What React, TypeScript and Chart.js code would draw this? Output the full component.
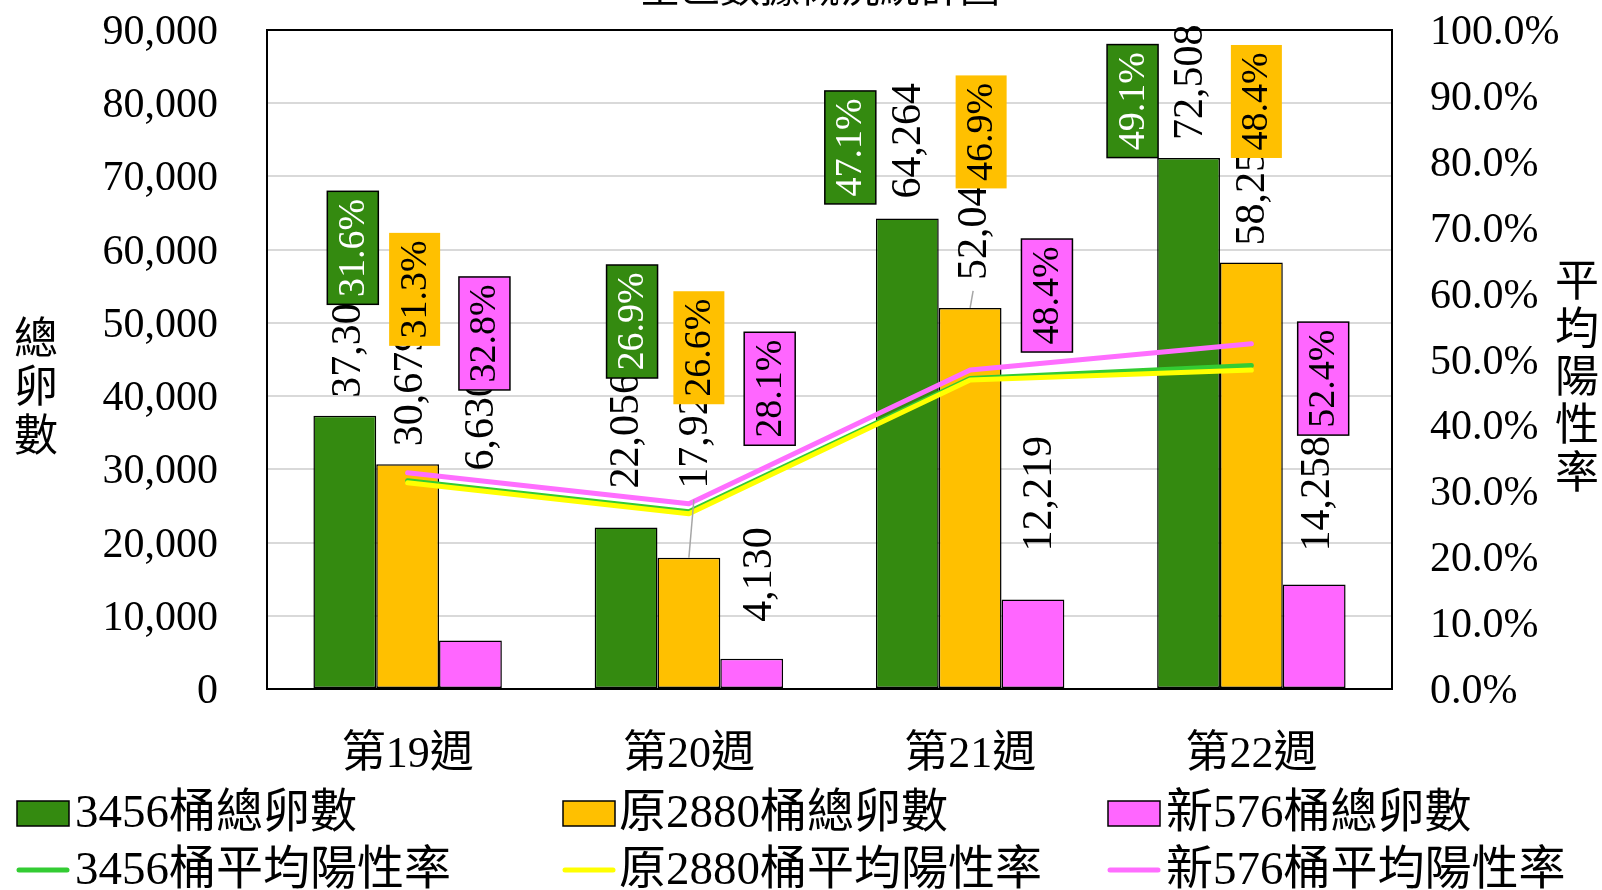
import React, { useEffect, useRef } from 'react';
import { Chart, registerables } from 'chart.js';

Chart.register(...registerables);

// ---------- data ----------
const categories = ['第19週', '第20週', '第21週', '第22週'];
const eggs3456 = [37309, 22056, 64264, 72508];
const eggs2880 = [30679, 17926, 52045, 58250];
const eggs576 = [6630, 4130, 12219, 14258];
const rate3456 = [31.6, 26.9, 47.1, 49.1];
const rate2880 = [31.3, 26.6, 46.9, 48.4];
const rate576 = [32.8, 28.1, 48.4, 52.4];
const barNames = ['3456桶總卵數', '原2880桶總卵數', '新576桶總卵數'];
const lineNames = ['3456桶平均陽性率', '原2880桶平均陽性率', '新576桶平均陽性率'];
const titleText = '全區數據概況統計圖';
const leftTitle = ['總', '卵', '數'];
const rightTitle = ['平', '均', '陽', '性', '率'];

// ---------- styles / layout ----------
const SERIF = '"Liberation Serif", "Noto Sans CJK TC", serif';
const BAR_COLORS = ['#348A10', '#FFC000', '#FF66FF'];
const LINE_COLORS = ['#33CC33', '#FFFF00', '#FF6EFF'];
const BOX_TEXT = ['#FFFFFF', '#000000', '#000000'];
const BOX_BORDER = [true, false, true];

// label offsets relative to bar (centerX, topY): value label start, percent box center
const VALUE_OFF = [
  [[4, -18], [1, -39], [2, -20], [2, -18]],
  [[3, -18], [7, -69], [5, -28], [2, -17]],
  [[12, -170], [8, -37], [7, -48], [4, -33]],
];
const BOX_OFF = [
  [[8, -168], [6, -206], [-57, -71], [-56, -57]],
  [[7, -175], [10, -210], [11, -176], [5, -161]],
  [[14, -307], [18, -270], [14, -304], [9, -206]],
];
const LEADERS = [
  [false, false, false, false],
  [false, true, true, false],
  [false, false, false, false],
];

const eggsAll = [eggs3456, eggs2880, eggs576];
const ratesAll = [rate3456, rate2880, rate576];

const fmt = (v: number) => v.toLocaleString('en-US');
const fmtPct = (v: number) => v.toFixed(1) + '%';

const decorPlugin = {
  id: 'decor',
  beforeDatasetsDraw(chart: any) {
    const { ctx, chartArea: a } = chart;
    ctx.save();
    ctx.strokeStyle = '#000';
    ctx.lineWidth = 2;
    ctx.strokeRect(a.left, a.top, a.right - a.left, a.bottom - a.top);
    ctx.restore();
  },
  afterDatasetsDraw(chart: any) {
    const ctx = chart.ctx;
    // value labels
    for (let s = 0; s < 3; s++) {
      const meta = chart.getDatasetMeta(s);
      meta.data.forEach((bar: any, j: number) => {
        const [dx, dy] = VALUE_OFF[s][j];
        const lx = bar.x + dx;
        const ly = bar.y + dy;
        if (LEADERS[s][j]) {
          ctx.save();
          ctx.strokeStyle = '#A6A6A6';
          ctx.lineWidth = 1.5;
          ctx.beginPath();
          ctx.moveTo(lx - 2, ly + 11);
          ctx.lineTo(bar.x, bar.y);
          ctx.stroke();
          ctx.restore();
        }
        ctx.save();
        ctx.translate(lx, ly);
        ctx.rotate(-Math.PI / 2);
        ctx.font = `42px ${SERIF}`;
        ctx.textAlign = 'left';
        ctx.textBaseline = 'middle';
        ctx.fillStyle = '#000';
        ctx.fillText(fmt(eggsAll[s][j]), 0, 0);
        ctx.restore();
      });
    }
    // percent boxes
    for (let s = 0; s < 3; s++) {
      const meta = chart.getDatasetMeta(s);
      meta.data.forEach((bar: any, j: number) => {
        const [dx, dy] = BOX_OFF[s][j];
        const cx = bar.x + dx;
        const cy = bar.y + dy;
        const w = 51, h = 113;
        ctx.save();
        ctx.fillStyle = BAR_COLORS[s];
        ctx.fillRect(cx - w / 2, cy - h / 2, w, h);
        if (BOX_BORDER[s]) {
          ctx.strokeStyle = '#000';
          ctx.lineWidth = 1.5;
          ctx.strokeRect(cx - w / 2, cy - h / 2, w, h);
        }
        ctx.translate(cx, cy);
        ctx.rotate(-Math.PI / 2);
        ctx.font = `38px ${SERIF}`;
        ctx.textAlign = 'center';
        ctx.textBaseline = 'middle';
        ctx.fillStyle = BOX_TEXT[s];
        ctx.fillText(fmtPct(ratesAll[s][j]), 0, 1);
        ctx.restore();
      });
    }
  },
  afterDraw(chart: any) {
    const ctx = chart.ctx;
    const a = chart.chartArea;
    ctx.save();
    // y tick labels
    ctx.font = `42px ${SERIF}`;
    ctx.fillStyle = '#000';
    ctx.textBaseline = 'middle';
    const ys = chart.scales.y;
    ctx.textAlign = 'right';
    ys.ticks.forEach((t: any) => {
      ctx.fillText(fmt(t.value), a.left - 49, ys.getPixelForValue(t.value) + 3);
    });
    const y1 = chart.scales.y1;
    ctx.textAlign = 'left';
    y1.ticks.forEach((t: any) => {
      ctx.fillText(fmtPct(t.value), a.right + 38, y1.getPixelForValue(t.value) + 3);
    });
    // title (clipped at top)
    ctx.font = `40px ${SERIF}`;
    ctx.textAlign = 'center';
    ctx.textBaseline = 'bottom';
    ctx.fillText(titleText, 820, 11);
    // axis titles
    ctx.font = `44px ${SERIF}`;
    ctx.textBaseline = 'middle';
    leftTitle.forEach((c, i) => ctx.fillText(c, 36, 342 + i * 48.5));
    rightTitle.forEach((c, i) => ctx.fillText(c, 1577, 284 + i * 48));
    // legend
    const colX = [17, 563, 1108];
    const textX = [75, 619, 1166];
    const rowY = [813, 870];
    ctx.font = `47px ${SERIF}`;
    ctx.textAlign = 'left';
    for (let i = 0; i < 3; i++) {
      ctx.fillStyle = BAR_COLORS[i];
      ctx.fillRect(colX[i], rowY[0] - 12, 52, 25);
      ctx.strokeStyle = '#000';
      ctx.lineWidth = 1.5;
      ctx.strokeRect(colX[i], rowY[0] - 12, 52, 25);
      ctx.fillStyle = '#000';
      ctx.fillText(barNames[i], textX[i], rowY[0] + 2);

      ctx.strokeStyle = LINE_COLORS[i];
      ctx.lineWidth = 5;
      ctx.lineCap = 'round';
      ctx.beginPath();
      ctx.moveTo(colX[i] + 2, rowY[1]);
      ctx.lineTo(colX[i] + 50, rowY[1]);
      ctx.stroke();
      ctx.fillStyle = '#000';
      ctx.fillText(lineNames[i], textX[i], rowY[1] + 2);
    }
    ctx.restore();
  },
};

const noPad = (s: any) => {
  s.paddingTop = 0;
  s.paddingBottom = 0;
};

export default function App() {
  const ref = useRef<HTMLCanvasElement | null>(null);
  useEffect(() => {
    document.body.style.margin = '0';
    if (!ref.current) return;
    const chart = new Chart(ref.current, {
      type: 'bar',
      data: {
        labels: categories,
        datasets: [
          ...[eggs3456, eggs2880, eggs576].map((d, i) => ({
            type: 'bar' as const,
            label: barNames[i],
            data: d,
            backgroundColor: BAR_COLORS[i],
            borderColor: '#000',
            borderWidth: 1.5,
            borderSkipped: false,
            yAxisID: 'y',
            order: 10 + i,
            barPercentage: 1,
            categoryPercentage: 0.67,
          })),
          ...[rate3456, rate2880, rate576].map((d, i) => ({
            type: 'line' as const,
            label: lineNames[i],
            data: d,
            borderColor: LINE_COLORS[i],
            backgroundColor: LINE_COLORS[i],
            borderWidth: 5,
            pointRadius: 0,
            tension: 0,
            borderCapStyle: 'round' as const,
            borderJoinStyle: 'round' as const,
            yAxisID: 'y1',
            order: [3, 2, 1][i],
          })),
        ],
      },
      options: {
        responsive: false,
        animation: false,
        devicePixelRatio: 1,
        layout: { padding: { top: 30, left: 0, right: 0, bottom: 0 } },
        plugins: {
          legend: { display: false },
          tooltip: { enabled: false },
          title: { display: false },
        },
        scales: {
          x: {
            grid: { display: false, drawTicks: false },
            border: { display: false },
            ticks: { font: { family: SERIF, size: 44 }, color: '#000', padding: 40 },
            afterFit: (s: any) => { s.height = 201; s.paddingLeft = 0; s.paddingRight = 0; },
          },
          y: {
            position: 'left',
            min: 0,
            max: 90000,
            grid: { color: '#D9D9D9', lineWidth: 2, drawTicks: false },
            border: { display: false },
            ticks: { stepSize: 10000, display: false },
            afterFit: (s: any) => { s.width = 267; noPad(s); },
          },
          y1: {
            position: 'right',
            min: 0,
            max: 100,
            grid: { display: false, drawTicks: false },
            border: { display: false },
            ticks: { stepSize: 10, display: false },
            afterFit: (s: any) => { s.width = 210; noPad(s); },
          },
        },
      } as any,
      plugins: [decorPlugin],
    });
    return () => chart.destroy();
  }, []);
  return (
    <div style={{ width: 1602, height: 890, position: 'relative', background: '#fff' }}>
      <canvas ref={ref} width={1602} height={890} style={{ display: 'block' }} />
    </div>
  );
}
